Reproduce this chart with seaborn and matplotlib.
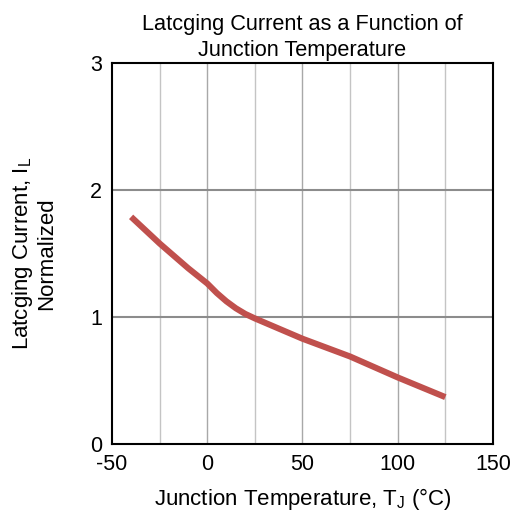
import numpy as np
import pandas as pd
import matplotlib
matplotlib.use("Agg")
import matplotlib.pyplot as plt
import seaborn as sns

# Curve.
temp_c = [-40, -25, -10, 0, 5, 10, 15, 20, 25, 50, 75, 100, 125]
latch_norm = [1.79, 1.58, 1.385, 1.265, 1.19, 1.125, 1.07, 1.025, 0.99, 0.83, 0.69, 0.525, 0.37]

x_ticks = [-50, 0, 50, 100, 150]
x_grid = [-25, 0, 25, 50, 75, 100, 125]
y_ticks = [0, 1, 2, 3]

sns.set_theme(style="white")
plt.rcParams['font.family'] = ['Liberation Sans', 'DejaVu Sans']
plt.rcParams['mathtext.fontset'] = 'custom'
plt.rcParams['mathtext.rm'] = 'Liberation Sans'
plt.rcParams['axes.unicode_minus'] = False
plt.rcParams['text.color'] = 'black'
plt.rcParams['axes.labelcolor'] = 'black'

data_df = pd.DataFrame({'temp': temp_c, 'latch': latch_norm})

fig = plt.figure(figsize=(5.14, 5.14), dpi=100)
ax = fig.add_axes([0.218, 0.136, 0.741, 0.741])

# Grid lines first so the curve sits on top.
for gx in x_grid:
    ax.axvline(gx, color='#c4c4c4' if gx % 50 else '#a8a8a8', lw=1.0, zorder=0)
for gy in [1, 2]:
    ax.axhline(gy, color='#8c8c8c', lw=1.5, zorder=0)

sns.lineplot(data=data_df, x='temp', y='latch', ax=ax, color='#c0504d',
             linewidth=4.4, solid_capstyle='butt', zorder=3)

ax.set_xlim(-50, 150)
ax.set_ylim(0, 3)
ax.set_xticks(x_ticks)
ax.set_yticks(y_ticks)
ax.tick_params(length=0, labelsize=15.5, colors='black', pad=7)

for s in ax.spines.values():
    s.set_color('black')
    s.set_linewidth(1.5)

ax.set_title("Latcging Current as a Function of\nJunction Temperature",
             fontsize=15.7, pad=5, linespacing=1.3, color='black')
ax.set_xlabel(r"Junction Temperature, T$_\mathregular{J}$ (°C)", fontsize=16, labelpad=8)
ax.set_ylabel("Latcging Current, I$_\\mathregular{L}$\nNormalized", fontsize=16,
              labelpad=24, linespacing=1.05)

fig.savefig("out.png", dpi=100)
